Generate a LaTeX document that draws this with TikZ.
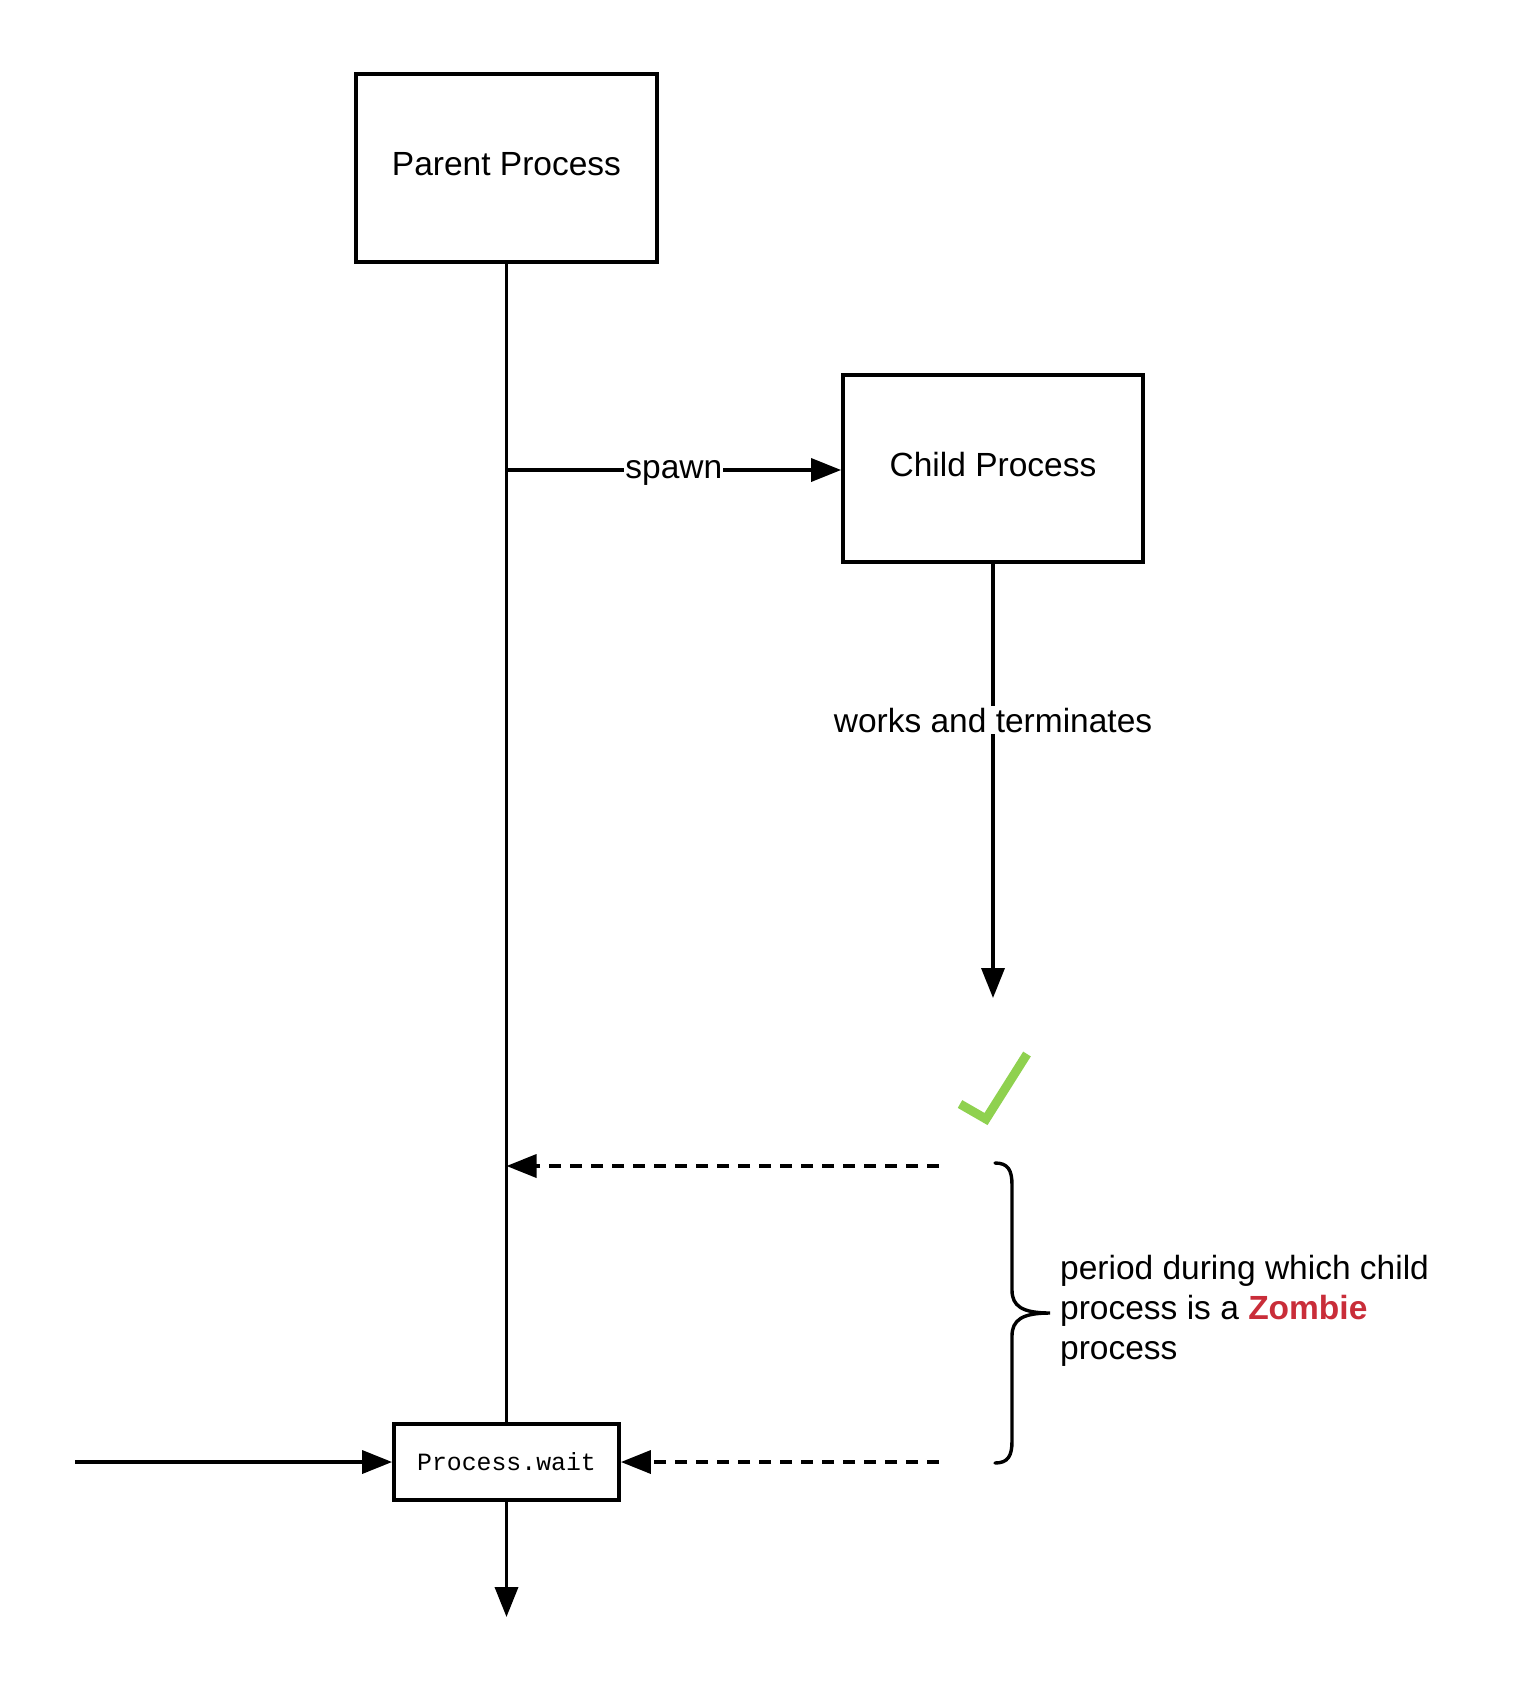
\documentclass[tikz,border=0pt]{standalone}
\usepackage{fontspec}
\setmainfont{Liberation Sans}
\newfontfamily\codefont{Liberation Mono}
\usetikzlibrary{arrows.meta}
\definecolor{zred}{HTML}{C92D39}
\definecolor{cgreen}{HTML}{8FD14F}
\begin{document}
\begin{tikzpicture}[x=1pt,y=-1pt,
  box/.style={draw=black, line width=3.8pt, fill=white, inner sep=0pt, font=\fontsize{33.5}{40}\selectfont},
  line/.style={draw=black, line width=3.6pt},
  arr/.style={line, -{Triangle[length=30pt,width=23pt]}},
  darr/.style={arr, dash pattern=on 12pt off 9pt},
  lbl/.style={fill=white, inner sep=2pt, font=\fontsize{33.5}{40}\selectfont}]
\useasboundingbox[fill=white] (0,0) rectangle (1519,1688);
% nodes
\node[box, minimum width=301pt, minimum height=188pt, text depth=8pt] (parent) at (506.5,168) {Parent Process};
\node[box, minimum width=300pt, minimum height=187pt, text depth=8pt] (child) at (993,468.5) {Child Process};
\node[box, minimum width=225pt, minimum height=76pt, font=\codefont\fontsize{24.8}{28}\selectfont] (wait) at (506.5,1462) {Process.wait};
% coordinates
\coordinate (sp) at (506.5,470);
\coordinate (cend) at (993,998);
\coordinate (d1s) at (939,1166);
\coordinate (d1e) at (506.5,1166);
\coordinate (d2s) at (939,1462);
\coordinate (lin) at (75,1462);
\coordinate (wend) at (506.5,1617);
% connectors
\draw[line] (parent.south) -- (wait.north);
\draw[arr] (sp) -- node[lbl, inner sep=1pt, yshift=-3pt] {spawn} (child.west |- sp);
\draw[arr] (child.south) -- node[lbl, pos=0.36] {works and terminates} (cend);
\draw[darr] (d1s) -- (d1e);
\draw[darr] (d2s) -- (wait.east);
\draw[arr] (lin) -- (wait.west);
\draw[arr] (wait.south) -- (wend);
% check mark
\draw[cgreen, line width=9pt, line join=miter] (960,1104) -- (986,1119) -- (1027,1054);
% brace
\draw[line width=3.4pt, line cap=round]
  (995,1163) .. controls (1008,1163) and (1012,1170) .. (1012,1185) -- (1012,1290)
  .. controls (1012,1306) and (1022,1313) .. (1050,1313)
  .. controls (1022,1313) and (1012,1320) .. (1012,1336) -- (1012,1441)
  .. controls (1012,1456) and (1008,1463) .. (995,1463);
\node[anchor=west, inner sep=0pt, align=left, font=\fontsize{33.5}{40}\selectfont] (zt) at (1060,1311)
  {period during which child\\process is a \textcolor{zred}{\textbf{Zombie}}\\process};
\end{tikzpicture}
\end{document}
